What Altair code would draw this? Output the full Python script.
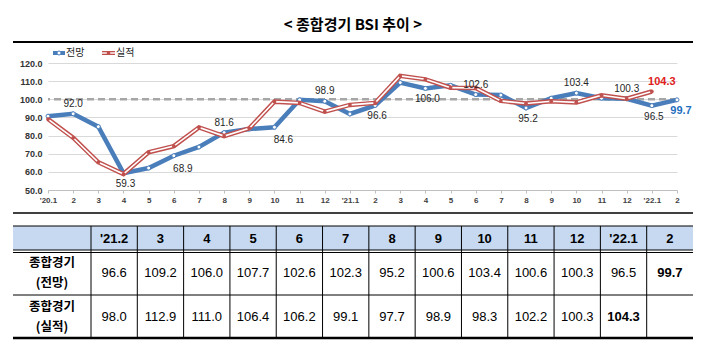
import json
import altair as alt
import pandas as pd

# ---------------- data ----------------
month_keys = [f"m{i:02d}" for i in range(26)]
month_labels = ["'20.1", "2", "3", "4", "5", "6", "7", "8", "9", "10", "11", "12",
                "'21.1", "2", "3", "4", "5", "6", "7", "8", "9", "10", "11", "12",
                "'22.1", "2"]
forecast = [90.7, 92.0, 84.9, 59.3, 62.1, 68.9, 73.7, 81.6, 83.6, 84.6, 99.7, 98.9,
            91.9, 96.6, 109.2, 106.0, 107.7, 102.6, 102.3, 95.2, 100.6, 103.4, 100.6, 100.3,
            96.5, 99.7]
actual = [89.1, 78.8, 65.3, 58.8, 70.8, 74.2, 84.5, 79.7, 84.0, 98.7, 98.0, 93.2,
          96.9, 98.0, 112.9, 111.0, 106.4, 106.2, 99.1, 97.7, 98.9, 98.3, 102.2, 100.3,
          104.3, None]
y_ticks = [50, 60, 70, 80, 90, 100, 110, 120]

# labelled points: (month index, group)
forecast_labels = {1: "above", 3: "below", 5: "below_right", 7: "above", 9: "below_right",
                   11: "above", 13: "below", 15: "below", 17: "above", 19: "below",
                   21: "above", 23: "above", 24: "below", 25: "last_f"}
actual_labels = {24: "last_a"}

table_cols = ["'21.2", "3", "4", "5", "6", "7", "8", "9", "10", "11", "12", "'22.1", "2"]
table_forecast = forecast[13:]
table_actual = actual[13:]
row_names = [("종합경기", "(전망)"), ("종합경기", "(실적)")]

BLUE = "#4a7ebb"
RED = "#c0504d"
NUM_FONT = "Liberation Sans, Noto Sans CJK KR"
KR_FONT = "Noto Sans CJK KR"

# ---------------- line chart ----------------
rows = []
for k, lab, f, a in zip(month_keys, month_labels, forecast, actual):
    rows.append({"key": k, "label": lab, "series": "전망", "value": f})
    if a is not None:
        rows.append({"key": k, "label": lab, "series": "실적", "value": a})
df = pd.DataFrame(rows)

lab_rows = []
for i, g in forecast_labels.items():
    lab_rows.append({"key": month_keys[i], "value": forecast[i], "txt": f"{forecast[i]:.1f}", "grp": g})
for i, g in actual_labels.items():
    lab_rows.append({"key": month_keys[i], "value": actual[i], "txt": f"{actual[i]:.1f}", "grp": g})
lab_df = pd.DataFrame(lab_rows)

label_map = json.dumps(dict(zip(month_keys, month_labels)), ensure_ascii=False)

PLOT_W, PLOT_H = 629, 127


def xenc():
    return alt.X("key:N", sort=month_keys,
                 scale=alt.Scale(type="point", domain=month_keys, range=[0, PLOT_W], padding=0),
                 axis=alt.Axis(title=None, labelExpr=f"{label_map}[datum.value]", labelAngle=0,
                               labelFontSize=8, labelFontWeight="bold", labelColor="#404040",
                               labelFont=NUM_FONT, domainColor="#bfbfbf", tickColor="#bfbfbf",
                               tickSize=3, labelPadding=3, grid=False))


def yenc():
    return alt.Y("value:Q",
                 scale=alt.Scale(domain=[50, 120], nice=False, zero=False),
                 axis=alt.Axis(title=None, values=y_ticks, format=".1f", grid=True,
                               gridColor="#d9d9d9", gridWidth=1, domain=False, ticks=False,
                               labelFontSize=9, labelFontWeight="bold", labelColor="#333333",
                               labelFont=NUM_FONT, labelPadding=6))


base = alt.Chart(df)
dash = alt.Chart(pd.DataFrame({"key": [month_keys[0]], "value": [100]})).mark_rule(
    color="#a6a6a6", strokeWidth=2.5, strokeDash=[7, 4]).encode(y=yenc())

blue_line = base.transform_filter(alt.datum.series == "전망").mark_line(
    color=BLUE, strokeWidth=4.5).encode(x=xenc(), y=yenc())
blue_pts = base.transform_filter(alt.datum.series == "전망").mark_point(
    shape="circle", filled=True, fill="white", stroke=BLUE, strokeWidth=1, size=16, opacity=1
).encode(x=xenc(), y=yenc())
red_outer = base.transform_filter(alt.datum.series == "실적").mark_line(
    color=RED, strokeWidth=4.5).encode(x=xenc(), y=yenc())
red_inner = base.transform_filter(alt.datum.series == "실적").mark_line(
    color="white", strokeWidth=1.6).encode(x=xenc(), y=yenc())
red_pts = base.transform_filter(alt.datum.series == "실적").mark_circle(
    color=RED, size=14, opacity=1).encode(x=xenc(), y=yenc())

lab_base = alt.Chart(lab_df)


def lab_layer(grp, dx, dy, color="#262626", bold=False, size=10):
    return lab_base.transform_filter(alt.datum.grp == grp).mark_text(
        dx=dx, dy=dy, fontSize=size, color=color, font=NUM_FONT,
        fontWeight="bold" if bold else "normal", baseline="middle", align="center"
    ).encode(x=xenc(), y=yenc(), text="txt:N")


labels = [
    lab_layer("above", 0, -10),
    lab_layer("below", 2, 11),
    lab_layer("below_right", 9, 13),
    lab_layer("last_f", 4, 11, color="#1f6fbf", bold=True, size=11),
    lab_layer("last_a", 10, -9, color="#e02020", bold=True, size=11),
]

line_group = alt.layer(dash, blue_line, blue_pts, red_outer, red_inner, red_pts, *labels)

# ---------------- decorations & table ----------------
one = pd.DataFrame({"k": [0]})
X0, X1 = 13 - 48, 693 - 48  # full-width extent relative to the plot area


def hline(y, width=1.0, color="black"):
    return alt.Chart(one).mark_rule(color=color, strokeWidth=width).encode(
        x=alt.value(X0), x2=alt.value(X1), y=alt.value(y))


title = alt.Chart(one).mark_text(fontSize=15, fontWeight="bold", font=KR_FONT,
                                 color="black", align="center", baseline="middle").encode(
    x=alt.value(305), y=alt.value(-38), text=alt.value("< 종합경기 BSI 추이 >"))

# legend
leg_blue_line = alt.Chart(one).mark_rule(color=BLUE, strokeWidth=4).encode(
    x=alt.value(5), x2=alt.value(17), y=alt.value(-10))
leg_blue_pt = alt.Chart(one).mark_point(shape="circle", filled=True, fill="white", stroke=BLUE,
                                        strokeWidth=1, size=16, opacity=1).encode(
    x=alt.value(11), y=alt.value(-10))
leg_blue_txt = alt.Chart(one).mark_text(fontSize=10, font=KR_FONT, align="left",
                                        baseline="middle", color="#262626").encode(
    x=alt.value(18), y=alt.value(-10), text=alt.value("전망"))
leg_red_line = alt.Chart(one).mark_rule(color=RED, strokeWidth=4).encode(
    x=alt.value(54), x2=alt.value(67), y=alt.value(-10))
leg_red_inner = alt.Chart(one).mark_rule(color="white", strokeWidth=1.4).encode(
    x=alt.value(54), x2=alt.value(67), y=alt.value(-10))
leg_red_pt = alt.Chart(one).mark_circle(color=RED, size=14, opacity=1).encode(
    x=alt.value(60.5), y=alt.value(-10))
leg_red_txt = alt.Chart(one).mark_text(fontSize=10, font=KR_FONT, align="left",
                                       baseline="middle", color="#262626").encode(
    x=alt.value(68), y=alt.value(-10), text=alt.value("실적"))

# table geometry (relative to plot origin)
T_TOP, H_BOT, R1_BOT, T_BOT = 226 - 63, 251 - 63, 295 - 63, 338 - 63
tscale = alt.Scale(type="band", domain=table_cols, range=[91 - 48, X1], paddingInner=0, paddingOuter=0)

header_fill = alt.Chart(one).mark_rect(color="#c6d9f1").encode(
    x=alt.value(X0), x2=alt.value(X1), y=alt.value(T_TOP), y2=alt.value(H_BOT - 1))

hdr_df = pd.DataFrame({"col": table_cols})
vlines = alt.Chart(hdr_df).mark_rule(color="black", strokeWidth=1).encode(
    x=alt.X("col:N", scale=tscale, axis=None, bandPosition=0),
    y=alt.value(T_TOP), y2=alt.value(T_BOT))
hdr_txt = alt.Chart(hdr_df).mark_text(fontSize=13, fontWeight="bold", font=NUM_FONT,
                                      color="black", baseline="middle").encode(
    x=alt.X("col:N", scale=tscale, axis=None, bandPosition=0.5),
    y=alt.value((T_TOP + H_BOT) / 2), text="col:N")

cell_rows = []
for r, vals in enumerate([table_forecast, table_actual]):
    last = max(i for i, v in enumerate(vals) if v is not None)
    for i, (c, v) in enumerate(zip(table_cols, vals)):
        if v is None:
            continue
        cell_rows.append({"col": c, "row": r, "txt": f"{v:.1f}", "bold": i == last})
cell_df = pd.DataFrame(cell_rows)

row_y = [(H_BOT + R1_BOT) / 2, (R1_BOT + T_BOT) / 2]


def cell_layer(r, bold):
    return alt.Chart(cell_df).transform_filter(
        (alt.datum.row == r) & (alt.datum.bold == bold)).mark_text(
        fontSize=13, fontWeight="bold" if bold else "normal", font=NUM_FONT,
        color="black", baseline="middle").encode(
        x=alt.X("col:N", scale=tscale, axis=None, bandPosition=0.5),
        y=alt.value(row_y[r]), text="txt:N")


cells = [cell_layer(r, b) for r in (0, 1) for b in (False, True)]

row_lbls = []
for r, (l1, l2) in enumerate(row_names):
    for txt, off in ((l1, -10), (l2, 10)):
        row_lbls.append(alt.Chart(one).mark_text(
            fontSize=12.5, fontWeight="bold", font=KR_FONT, color="black",
            baseline="middle", align="center").encode(
            x=alt.value(52 - 48), y=alt.value(row_y[r] + off), text=alt.value(txt)))

deco_group = alt.layer(
    title, hline(-21, 2),
    leg_blue_line, leg_blue_pt, leg_blue_txt, leg_red_line, leg_red_inner, leg_red_pt, leg_red_txt,
    hline(213 - 63, 1.5),
    header_fill, vlines,
    hline(T_TOP, 1), hline(H_BOT - 1, 1), hline(H_BOT + 1.5, 1), hline(R1_BOT, 1), hline(T_BOT, 2.5),
    hdr_txt, *cells, *row_lbls,
)

chart = alt.layer(line_group, deco_group).resolve_scale(
    x="independent", y="independent"
).properties(
    width=PLOT_W, height=PLOT_H,
    padding={"left": 48, "top": 63, "right": 33, "bottom": 161},
    autosize=alt.AutoSizeParams(type="none"),
    background="white",
).configure_view(stroke=None)

chart.save("out.html", embed_options={"renderer": "svg", "actions": False})
